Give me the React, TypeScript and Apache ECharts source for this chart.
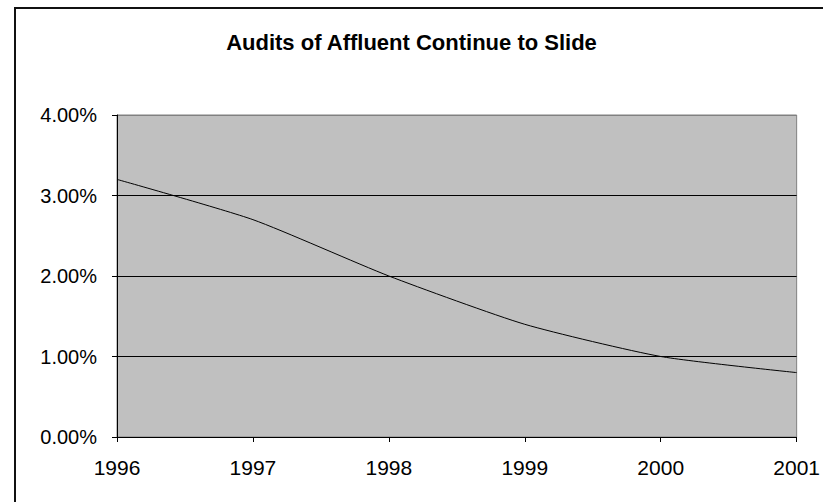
import React, { useEffect, useRef } from "react";
import * as echarts from "echarts";

const years = ["1996", "1997", "1998", "1999", "2000", "2001"];
const auditRates = [3.2, 2.7, 2.0, 1.4, 1.0, 0.8];
const chartTitle = "Audits of Affluent Continue to Slide";

export default function App() {
  const ref = useRef<HTMLDivElement>(null);
  useEffect(() => {
    if (!ref.current) return;
    const chart = echarts.init(ref.current, undefined, { renderer: "svg" });
    chart.setOption({
      animation: false,
      backgroundColor: "#ffffff",
      title: {
        text: chartTitle,
        left: "center",
        top: 26,
        textStyle: {
          fontFamily: "Liberation Sans, Arial, sans-serif",
          fontSize: 22,
          fontWeight: "bold",
          color: "#000",
        },
      },
      graphic: [
        {
          type: "rect",
          shape: { x: 15, y: 8, width: 900, height: 600 },
          style: { fill: "none", stroke: "#111", lineWidth: 2 },
          silent: true,
        },
      ],
      grid: {
        left: 117,
        top: 115,
        right: 26,
        bottom: 65,
        show: true,
        backgroundColor: "#c0c0c0",
        borderColor: "#808080",
        borderWidth: 1,
      },
      xAxis: {
        type: "category",
        data: years,
        boundaryGap: false,
        axisLine: { show: true, lineStyle: { color: "#000", width: 1 } },
        axisTick: { show: true, length: 5, lineStyle: { color: "#000" } },
        axisLabel: {
          color: "#000",
          fontFamily: "Liberation Sans, Arial, sans-serif",
          fontSize: 21,
          margin: 20,
        },
        splitLine: { show: false },
      },
      yAxis: {
        type: "value",
        min: 0,
        max: 4,
        interval: 1,
        axisLine: { show: true, lineStyle: { color: "#000", width: 1 } },
        axisTick: { show: true, length: 5, lineStyle: { color: "#000" } },
        axisLabel: {
          color: "#000",
          fontFamily: "Liberation Sans, Arial, sans-serif",
          fontSize: 20,
          margin: 20,
          formatter: (v: number) => v.toFixed(2) + "%",
        },
        splitLine: {
          show: true,
          lineStyle: { color: ["#000", "#000", "#000", "#000", "#808080"], width: 1 },
        },
      },
      series: [
        {
          type: "line",
          data: auditRates,
          smooth: 0.2,
          symbol: "none",
          lineStyle: { color: "#000", width: 1 },
        },
      ],
    });
    return () => chart.dispose();
  }, []);
  return (
    <div
      ref={ref}
      style={{ position: "fixed", left: 0, top: 0, width: 823, height: 502 }}
    />
  );
}
